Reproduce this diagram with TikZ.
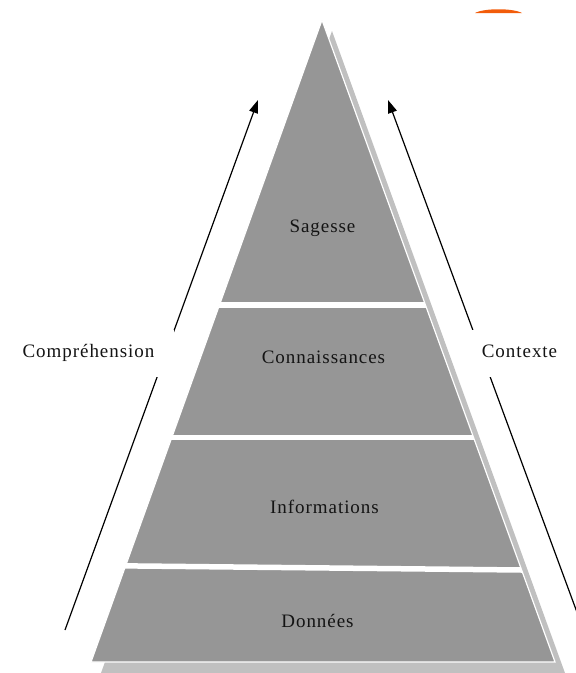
\documentclass[tikz,border=0pt]{standalone}
\usepackage{fontspec}
\setmainfont{Liberation Serif}[LetterSpace=5]
\usetikzlibrary{arrows.meta}
\definecolor{pyrgray}{RGB}{150,150,150}
\definecolor{shadowgray}{RGB}{192,192,192}
\definecolor{blob}{RGB}{242,92,10}
\definecolor{ink}{RGB}{20,20,20}
\begin{document}
\begin{tikzpicture}[x=1pt,y=-1pt,
  lvl/.style={font=\fontsize{19}{21}\selectfont, text=ink, anchor=base, inner sep=0pt},
  side/.style={font=\fontsize{19}{21}\selectfont, text=ink, anchor=base, fill=white,
    inner ysep=0pt, text height=27pt, text depth=20pt},
  flow/.style={line width=1.2pt, -{Triangle[length=13pt,width=9pt]}},
  band/.style={white, line width=5.5pt}]
\useasboundingbox (0,0) rectangle (576,673);
\clip (0,0) rectangle (576,673);
% shadow
\fill[shadowgray] (332,31) -- (332-0.3598*659,690) -- (332+0.3629*659,690) -- cycle;
% main pyramid
\fill[pyrgray] (322,20) -- (91,662) -- (555,662) -- cycle;
\begin{scope}
  \clip (322,20) -- (91,662) -- (555,662) -- cycle;
  \draw[band] (100,305) -- (560,305);
  \draw[band] (100,437.5) -- (560,437.5);
  \draw[band] (100,565.6) -- (560,570.4);
\end{scope}
\draw[white, line width=1.2pt, line join=miter] (322,20) -- (91,662) -- (555,662) -- cycle;
% level texts
\node[lvl] (sag) at (322.5,232) {Sagesse};
\node[lvl] (con) at (323.5,363) {Connaissances};
\node[lvl] (inf) at (324.5,513) {Informations};
\node[lvl] (don) at (317.5,627) {Données};
% arrows
\coordinate (lstart) at (65,630);
\coordinate (ltip) at (258,100);
\coordinate (rstart) at (578,615);
\coordinate (rtip) at (388,100);
\draw[flow] (lstart) -- (ltip);
\draw[flow] (rstart) -- (rtip);
% side labels
\node[side, inner xsep=20pt] (comp) at (88.5,357) {Compréhension};
\node[side, inner xsep=12pt] (ctx) at (519.5,357) {Contexte};
% orange blob
\fill[blob] (475,13) .. controls (484,8) and (513,8) .. (522,13) -- cycle;
\end{tikzpicture}
\end{document}
